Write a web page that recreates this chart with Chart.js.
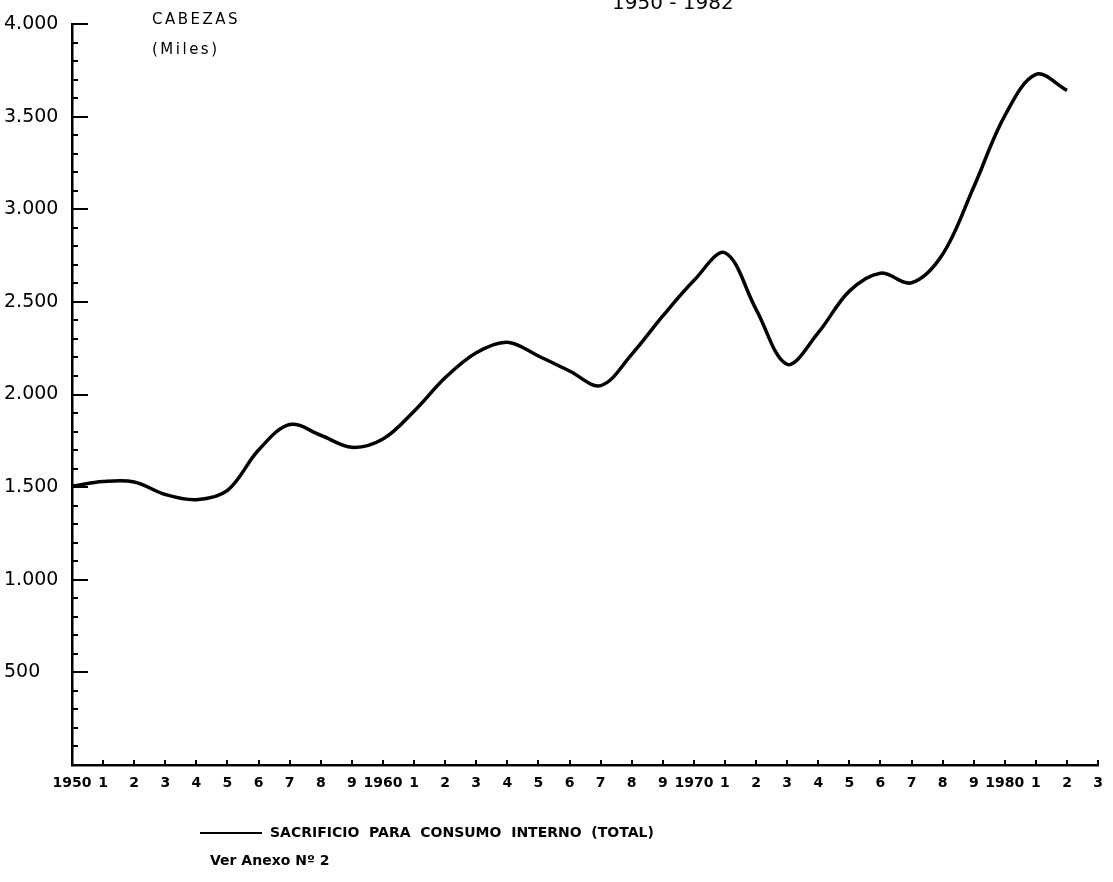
<!DOCTYPE html>
<html>
<head>
<meta charset="utf-8">
<script src="https://cdn.jsdelivr.net/npm/chart.js@4"></script>
<style>
  body { margin: 0; background: #fff; }
  #wrap { position: relative; width: 1113px; height: 882px; overflow: hidden; font-family: "DejaVu Sans", sans-serif; color: #000; }
  #wrap canvas { position: absolute; left: 0; top: 0; }
  .note { position: absolute; white-space: pre; font-weight: bold; }
  #title { left: 612px; top: -10px; font-size: 20px; font-weight: normal; }
  #unit1 { left: 152px; top: 10px; font-size: 15px; font-weight: normal; letter-spacing: 2.5px; }
  #unit2 { left: 152px; top: 40px; font-size: 15px; font-weight: normal; letter-spacing: 2.5px; }
  #legend { left: 200px; top: 824px; font-size: 14px; }
  #legend span.line { display: inline-block; width: 62px; height: 2px; background: #000; vertical-align: middle; margin-right: 8px; }
  #source { left: 210px; top: 852px; font-size: 14px; }
</style>
</head>
<body>
<div id="wrap">
  <canvas id="lineChart" width="1113" height="882"></canvas>
  <div class="note" id="title">1950 - 1982</div>
  <div class="note" id="unit1">CABEZAS</div>
  <div class="note" id="unit2">(Miles)</div>
  <div class="note" id="legend"><span class="line"></span><span id="legendText"></span></div>
  <div class="note" id="source">Ver Anexo Nº 2</div>
</div>
<script>
const years = [1950, 1951, 1952, 1953, 1954, 1955, 1956, 1957, 1958, 1959,
    1960, 1961, 1962, 1963, 1964, 1965, 1966, 1967, 1968, 1969,
    1970, 1971, 1972, 1973, 1974, 1975, 1976, 1977, 1978, 1979,
    1980, 1981, 1982];
const sacrificio = [1505, 1530, 1528, 1460, 1432, 1482, 1700, 1838, 1780, 1715,
    1760, 1910, 2090, 2225, 2282, 2208, 2127, 2048, 2217, 2424,
    2615, 2765, 2460, 2163, 2334, 2558, 2655, 2603, 2757, 3120,
    3505, 3728, 3642];
const seriesLabel = "SACRIFICIO  PARA  CONSUMO  INTERNO  (TOTAL)";

const xTickLabels = ["1950", "1", "2", "3", "4", "5", "6", "7", "8", "9",
    "1960", "1", "2", "3", "4", "5", "6", "7", "8", "9",
    "1970", "1", "2", "3", "4", "5", "6", "7", "8", "9",
    "1980", "1", "2", "3"];
const yTickLabels = ["", "500", "1.000", "1.500", "2.000", "2.500", "3.000", "3.500", "4.000"];

document.getElementById("legendText").textContent = seriesLabel;

// small tick marks drawn inside the axes, like the paper graph
const axisTicks = {
    id: "axisTicks",
    afterDraw(chart) {
        const {ctx, chartArea, scales: {x, y}} = chart;
        ctx.save();
        ctx.strokeStyle = "#000";
        ctx.lineWidth = 2;
        ctx.beginPath();
        for (let v = 100; v <= 4000; v += 100) {
            const py = Math.round(y.getPixelForValue(v));
            const len = v % 500 === 0 ? 16 : 6;
            ctx.moveTo(chartArea.left, py);
            ctx.lineTo(chartArea.left + len, py);
        }
        for (let yr = 1951; yr <= 1983; yr++) {
            const px = Math.round(x.getPixelForValue(yr));
            ctx.moveTo(px, chartArea.bottom);
            ctx.lineTo(px, chartArea.bottom - 5);
        }
        ctx.stroke();
        ctx.restore();
    }
};

const ctx = document.getElementById("lineChart").getContext("2d");
new Chart(ctx, {
    type: "line",
    data: {
        datasets: [{
            label: seriesLabel,
            data: years.map((yr, i) => ({x: yr, y: sacrificio[i]})),
            borderColor: "#000",
            borderWidth: 3.5,
            pointRadius: 0,
            tension: 0.35,
            fill: false
        }]
    },
    options: {
        responsive: false,
        animation: false,
        layout: {padding: {left: 4, top: 24, right: 14, bottom: 77}},
        plugins: {
            legend: {display: false},
            tooltip: {enabled: false}
        },
        scales: {
            x: {
                type: "linear",
                min: 1950,
                max: 1983,
                afterFit(scale) { scale.height = 40; },
                grid: {display: false, drawTicks: false},
                border: {display: true, color: "#000", width: 2.5},
                ticks: {
                    stepSize: 1,
                    autoSkip: false,
                    maxRotation: 0,
                    padding: 10,
                    color: "#000",
                    font: {family: "DejaVu Sans", size: 14, weight: "bold"},
                    callback: (v, i) => xTickLabels[i]
                }
            },
            y: {
                min: 0,
                max: 4000,
                afterFit(scale) { scale.width = 68; },
                grid: {display: false, drawTicks: false},
                border: {display: true, color: "#000", width: 2.5},
                ticks: {
                    stepSize: 500,
                    crossAlign: "far",
                    color: "#000",
                    font: {family: "DejaVu Sans", size: 19},
                    callback: (v, i) => yTickLabels[i]
                }
            }
        }
    },
    plugins: [axisTicks]
});
</script>
</body>
</html>
